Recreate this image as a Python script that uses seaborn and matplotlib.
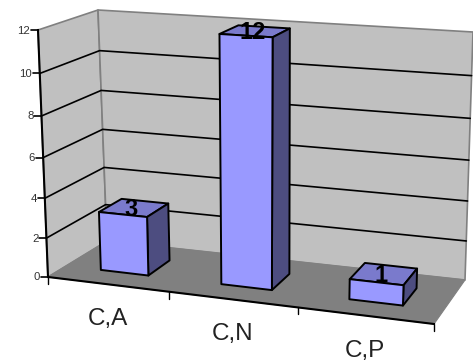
import numpy as np
import pandas as pd
import matplotlib
matplotlib.use("Agg")
import matplotlib.pyplot as plt
import seaborn as sns

categories = ["C,A", "C,N", "C,P"]
counts = [3, 12, 1]
value_ticks = [0, 2, 4, 6, 8, 10, 12]

sns.set_theme(style="white")
plt.rcParams["font.family"] = ["Liberation Sans", "DejaVu Sans"]

WALL = "#C0C0C0"
FLOOR = "#808080"
EDGE = "#808080"
BAR_FRONT = "#9999FF"
BAR_TOP = "#7A7ACC"
BAR_SIDE = "#4D4D80"
TICK_TEXT = "#333333"

# Box corners on the canvas: (right?, depth, top?) -> pixel position.
BOX = {
    (0, 0, 0): (48, 277), (0, 0, 1): (38, 30),
    (0, 1, 0): (107, 241), (0, 1, 1): (98, 10),
    (1, 0, 0): (434, 324), (1, 0, 1): (444, 56),
    (1, 1, 0): (465, 280), (1, 1, 1): (473, 32),
}
VMAX = value_ticks[-1]
X_PERSPECTIVE = 0.09
V_PERSPECTIVE = 0.2


def project(u, depth, value):
    """Map category fraction, depth fraction and value to canvas coordinates."""
    u = u - X_PERSPECTIVE * u * (1 - u)
    v = (value - V_PERSPECTIVE * value * (VMAX - value) / 36) / VMAX
    pt = np.zeros(2)
    for (i, j, k), corner in BOX.items():
        w = (u if i else 1 - u) * (depth if j else 1 - depth) * (v if k else 1 - v)
        pt += w * np.array(corner, dtype=float)
    return pt


def face(ax, pts, color, lw=1.4, edge="black", z=2):
    ax.fill(*zip(*pts), facecolor=color, edgecolor=edge, linewidth=lw,
            joinstyle="round", zorder=z)


fig, ax = plt.subplots(figsize=(4.73, 3.62), dpi=100)
fig.subplots_adjust(0, 0, 1, 1)

# Walls and floor
face(ax, [project(0, 0, 0), project(0, 1, 0), project(0, 1, VMAX), project(0, 0, VMAX)],
     WALL, lw=1.2, edge=EDGE, z=1)
face(ax, [project(0, 1, 0), project(1, 1, 0), project(1, 1, VMAX), project(0, 1, VMAX)],
     WALL, lw=1.2, edge=EDGE, z=1)

# Gridlines run across the side wall and on along the back wall
rows = []
for level in value_ticks[1:-1]:
    for u, d in [(0, 0), (0, 1), (1, 1)]:
        px, py = project(u, d, level)
        rows.append({"level": level, "px": px, "py": py})
grid = pd.DataFrame(rows)
sns.lineplot(data=grid, x="px", y="py", units="level", estimator=None, sort=False,
             color="black", linewidth=1.2, ax=ax, legend=False, zorder=1.5)

face(ax, [project(0, 0, 0), project(1, 0, 0), project(1, 1, 0), project(0, 1, 0)],
     FLOOR, lw=0.8, edge=EDGE, z=1.6)

# Axis lines
for a, b in [(project(0, 0, 0), project(0, 0, VMAX)), (project(0, 0, 0), project(1, 0, 0))]:
    ax.plot([a[0], b[0]], [a[1], b[1]], color="black", lw=1.5, zorder=1.8,
            solid_capstyle="projecting")

for level in value_ticks:
    x, y = project(0, 0, level)
    ax.plot([x - 7, x], [y, y], color="black", lw=1.2, zorder=1.8)
    ax.text(x - 8, y + 0.5, str(level), ha="right", va="center", fontsize=8.2,
            color=TICK_TEXT)

n = len(categories)
for i in range(n + 1):
    x, y = project(i / n, 0, 0)
    ax.plot([x, x], [y, y + 7], color="black", lw=1.0, zorder=1.8)

# Bars with their front, top and side faces
half = 0.067
d0, d1 = 0.31, 0.71
for i, (name, count) in enumerate(zip(categories, counts)):
    c = (i + 0.5) / n
    l, r = c - half, c + half
    z = 3 + i
    face(ax, [project(l, d0, count), project(r, d0, count), project(r, d1, count),
              project(l, d1, count)], BAR_TOP, z=z)
    face(ax, [project(r, d0, 0), project(r, d1, 0), project(r, d1, count),
              project(r, d0, count)], BAR_SIDE, z=z)
    face(ax, [project(l, d0, 0), project(r, d0, 0), project(r, d0, count),
              project(l, d0, count)], BAR_FRONT, z=z)
    tx, ty = project(c, 0.5, count)
    ax.text(tx - 2, ty + 1, str(count), ha="center", va="center", fontsize=17,
            fontweight="bold", color="black", zorder=10)
    lx, ly = project(c, 0, 0)
    ax.text(lx, ly + 35, name, ha="center", va="center", fontsize=17.5,
            color="#222222")

ax.set_xlim(0, 473)
ax.set_ylim(362, 0)
ax.axis("off")
fig.savefig("out.png", dpi=100, facecolor="white")
